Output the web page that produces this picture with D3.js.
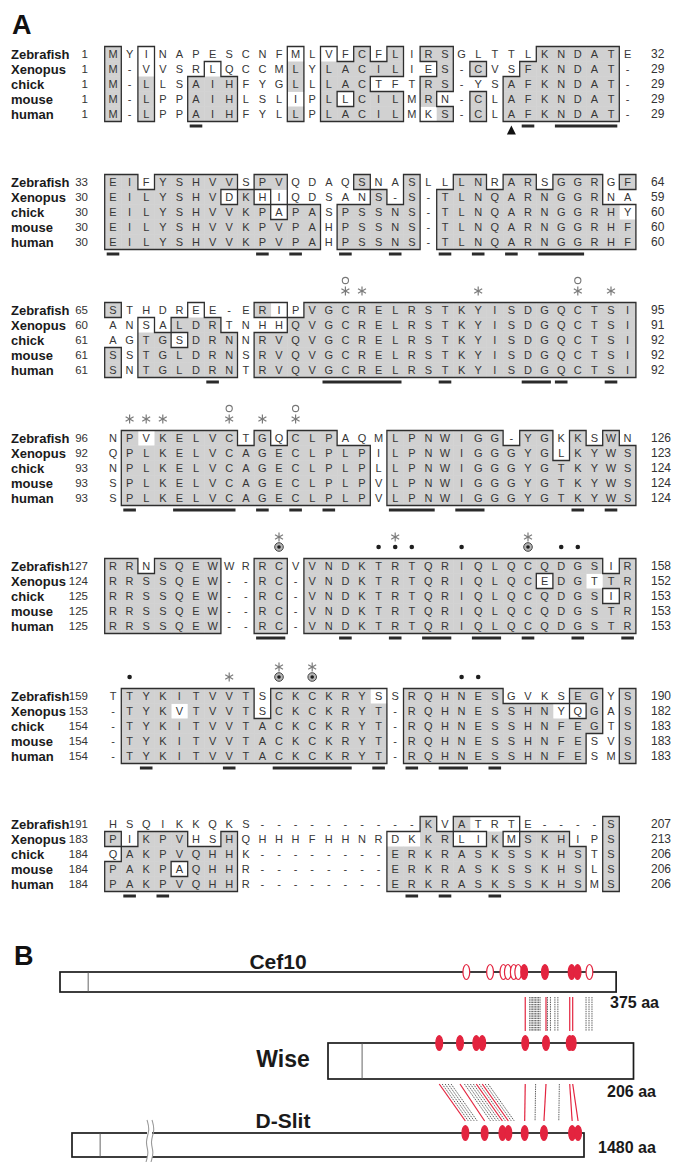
<!DOCTYPE html>
<html>
<head>
<meta charset="utf-8">
<script src="https://cdn.jsdelivr.net/npm/d3@7"></script>
<style>
  html, body { margin: 0; padding: 0; background: #ffffff; }
  svg { display: block; }
</style>
</head>
<body>
<svg id="fig" width="676" height="1162"></svg>
<script>
// ---------- Panel A: Wise protein alignment ----------
const species = ["Zebrafish", "Xenopus", "chick", "mouse", "human"];

// aligned sequence blocks, one string per species ('-' = gap)
const block1 = ["MYINAPESCNFMLVFCFLIRSGLTTLKNDATE", "M-VVSRLQCCMLYLACILIES-CVSFKNDAT-", "M-LLSAIHFYGLLLACTFTRS-YSAFKNDAT-", "M-LPPAIHLSLIPLLCILMRN-CLAFKNDAT-", "M-LPPAIHFYLLPLACILMKS-CLAFKNDAT-"];
const block2 = ["EIFYSHVVSPVQDAQSNASLLLNRARSGGRGF", "EILYSHVDKHIQDSANS-S-TLNQARNGGRNA", "EILYSHVVKPAPASPSSNS-TLNQARNGGRHY", "EILYSHVVKPVPAHPSSNS-TLNQARNGGRHF", "EILYSHVVKPVPAHPSSNS-TLNQARNGGRHF"];
const block3 = ["STHDREE-ERIPVGCRELRSTKYISDGQCTSI", "ANSALDRTNHHQVGCRELRSTKYISDGQCTSI", "AGTGSDRNNRVQVGCRELRSTKYISDGQCTSI", "SSTGLDRNSRVQVGCRELRSTKYISDGQCTSI", "SNTGLDRNTRVQVGCRELRSTKYISDGQCTSI"];
const block4 = ["NPVKELVCTGQCLPAQMLPNWIGG-YGKKSWN", "QPLKELVCAGECLPLPILPNWIGGGYGLKYWS", "NPLKELVCAGECLPLPLLPNWIGGGYGTKYWS", "SPLKELVCAGECLPLPVLPNWIGGGYGTKYWS", "SPLKELVCAGECLPLPVLPNWIGGGYGTKYWS"];
const block5 = ["RRNSQEWWRRCVVNDKTRTQRIQLQCQDGSIR", "RRSSQEW--RC-VNDKTRTQRIQLQCEDGTTR", "RRSSQEW--RC-VNDKTRTQRIQLQCQDGSIR", "RRSSQEW--RC-VNDKTRTQRIQLQCQDGSTR", "RRSSQEW--RC-VNDKTRTQRIQLQCQDGSTR"];
const block6 = ["TTYKITVVTSCKCKRYSSRQHNESGVKSEGYS", "-TYKVTVVTSCKCKRYT-RQHNESSHNYQGAS", "-TYKITVVTACKCKRYT-RQHNESSHNFEGTS", "-TYKITVVTACKCKRYT-RQHNESSHNFESVS", "-TYKITVVTACKCKRYT-RQHNESSHNFESMS"];
const block7 = ["HSQIKKQKS----------KVATRTE----S", "PIKPVHSHQHHHFHHNRDKKRLIKMSKHIPS", "QAKPVQHHK--------ERKRASKSSKHSTS", "PAKPAQHHR--------ERKRASKSSKHSLS", "PAKPVQHHR--------ERKRASKSSKHSMS"];

// first / last residue numbers of each row
const startNums = [[1,1,1,1,1],[33,30,30,30,30],[65,60,61,61,61],[96,92,93,93,93],[127,124,125,125,125],[159,153,154,154,154],[191,183,184,184,184]];
const endNums   = [[32,29,29,29,29],[64,59,60,60,60],[95,91,92,92,92],[126,123,124,124,124],[158,152,153,153,153],[190,182,183,183,183],[207,213,206,206,206]];

// column ranges underlined below the human row
const underBars = [
  [[6,6],[26,26],[28,31]],
  [[1,1],[10,10],[12,12],[15,15],[18,18],[21,21],[23,23],[25,25],[27,29]],
  [[7,7],[14,18],[21,21],[26,27],[28,28],[31,31]],
  [[2,2],[5,8],[10,10],[12,12],[14,14],[18,20],[22,23],[29,29],[31,31]],
  [[10,11],[15,15],[18,18],[20,21],[23,24],[26,26],[29,29],[32,32]],
  [[3,3],[8,8],[11,15],[17,17],[19,19],[21,22],[24,24]],
  [[2,2],[4,4],[19,19],[21,21],[24,24]]
];
// predicted signal-peptide cleavage site (block 1 column)
const cleavageCol = 25;

// symbols above the zebrafish row: "*" asterisk, "o*" circle over asterisk,
// "." dot, "*." asterisk over dot, "*@" asterisk over ringed dot
const topMarks = [
  [], [],
  [[15,"o*"],[16,"*"],[23,"*"],[29,"o*"],[31,"*"]],
  [[2,"*"],[3,"*"],[4,"*"],[8,"o*"],[10,"*"],[12,"o*"]],
  [[11,"*@"],[17,"."],[18,"*."],[19,"."],[22,"."],[26,"*@"],[28,"."],[29,"."]],
  [[2,"."],[8,"*"],[11,"*@"],[13,"*@"],[22,"."],[23,"."]],
  []
];

const blocks = [block1, block2, block3, block4, block5, block6, block7];
const blockY = [54, 182, 310, 438, 566, 696, 824];   // centre of the zebrafish row

// residue similarity groups used for the outlined regions
const simGroups = ["ILVM", "FYW", "KR", "DE", "NQ", "ST"];

// ---------- Panel B: domain diagrams ----------
const cefLen = 375, wiseLen = 206, slitLen = 1480;
const cefSignal = 19, wiseSignal = 23, slitSignal = 19;
const cefOpen = [274, 290, 299, 302, 306, 309, 357];
const cefFilled = [313, 327, 345, 349];
const wiseCys = [75, 89, 100, 104, 133, 147, 163, 165];
const slitCys = [1400, 1413, 1425, 1429, 1440, 1453, 1472, 1476];
// identities Cef10 -> Wise (Wise residue numbers)
const cefWiseRed = [133, 147, 163, 165];
const cefWiseBlack = [136, 137, 138, 139, 140, 141, 142, 143, 148, 150, 153, 155, 174, 176, 178];
// identities Wise -> D-Slit [Wise residue, D-Slit residue]
const wiseSlitRed = [[75,1400],[89,1413],[100,1425],[104,1429],[133,1440],[147,1453],[163,1472],[165,1476]];
const wiseSlitBlack = [[77,1402],[79,1404],[81,1406],[83,1408],[92,1417],[94,1419],[96,1421],[98,1423],[102,1427],[106,1431],[108,1433],[140,1447],[156,1463]];

// ---------- drawing ----------
const svg = d3.select("#fig");
const seqFont = "'Liberation Sans', Arial, Helvetica, sans-serif";
const narrowFont = "'Liberation Sans Narrow', 'Arial Narrow', 'Liberation Sans', Arial, sans-serif";

const colX = d3.scaleLinear().domain([1, 32]).range([113, 113 + 31 * 16.6]);
const pitch = colX(2) - colX(1);
const rowH = 15;
const rowY = d3.scalePoint().domain(species).range([0, 4 * rowH]);

svg.append("text").attr("x", 12).attr("y", 34)
  .attr("font-family", seqFont).attr("font-weight", "bold").attr("font-size", 27)
  .attr("fill", "#111").text("A");

function consensusOf(rows, c) {
  const counts = d3.rollup(rows.map(r => r[c]).filter(ch => ch && ch !== "-"), v => v.length, d => d);
  let best = null, n = 0;
  for (const [k, v] of counts) { if (v > n) { best = k; n = v; } }
  return n >= 3 ? best : null;
}
function similar(a, b) {
  if (a === "-" || !b) return false;
  return simGroups.some(g => g.includes(a) && g.includes(b));
}

function asterisk(g, x, y, r, color) {
  [90, 30, 150].forEach(a => {
    const t = a * Math.PI / 180;
    g.append("line")
      .attr("x1", x - r * Math.cos(t)).attr("y1", y - r * Math.sin(t))
      .attr("x2", x + r * Math.cos(t)).attr("y2", y + r * Math.sin(t))
      .attr("stroke", color).attr("stroke-width", 1.2);
  });
}

blocks.forEach((rows, bi) => {
  const g = svg.append("g").attr("transform", `translate(0,${blockY[bi]})`);
  const n = rows[0].length;
  const cons = d3.range(n).map(c => consensusOf(rows, c));
  const cells = [];
  rows.forEach((s, r) => { for (let c = 0; c < n; c++) cells.push({ r, c, res: s[c] }); });
  const inMask = (r, c) => r >= 0 && r < rows.length && c >= 0 && c < n && cons[c] &&
    (rows[r][c] === cons[c] || similar(rows[r][c], cons[c]));
  const left = d => colX(d.c + 1) - pitch / 2;
  const top = d => rowY(species[d.r]) - rowH / 2;

  // identical residues: grey shading
  g.selectAll("rect.shade").data(cells.filter(d => cons[d.c] && d.res === cons[d.c]))
    .join("rect").attr("class", "shade")
    .attr("x", left).attr("y", top)
    .attr("width", pitch + 0.4).attr("height", rowH + 0.4)
    .attr("fill", "#d1d1d1");

  // outlines around conserved regions
  const p = d3.path();
  cells.forEach(d => {
    if (!inMask(d.r, d.c)) return;
    const L = left(d), R = L + pitch, T = top(d), B = T + rowH;
    if (!inMask(d.r - 1, d.c)) { p.moveTo(L, T); p.lineTo(R, T); }
    if (!inMask(d.r + 1, d.c)) { p.moveTo(L, B); p.lineTo(R, B); }
    if (!inMask(d.r, d.c - 1)) { p.moveTo(L, T); p.lineTo(L, B); }
    if (!inMask(d.r, d.c + 1)) { p.moveTo(R, T); p.lineTo(R, B); }
  });
  g.append("path").attr("d", p.toString()).attr("fill", "none")
    .attr("stroke", "#2e2e2e").attr("stroke-width", 1.3).attr("stroke-linecap", "square");

  // residues
  g.selectAll("text.res").data(cells).join("text").attr("class", "res")
    .attr("x", d => colX(d.c + 1)).attr("y", d => rowY(species[d.r]))
    .attr("dy", "0.36em").attr("text-anchor", "middle")
    .attr("font-family", seqFont).attr("font-size", 11).attr("fill", "#363636")
    .text(d => d.res);

  // species names and residue numbers
  g.selectAll("text.sp").data(species).join("text").attr("class", "sp")
    .attr("x", 11).attr("y", d => rowY(d)).attr("dy", "0.36em")
    .attr("font-family", narrowFont).attr("font-weight", "bold").attr("font-size", 13)
    .attr("fill", "#1a1a1a").text(d => d);
  g.selectAll("text.st").data(startNums[bi]).join("text").attr("class", "st")
    .attr("x", 88).attr("y", (d, i) => rowY(species[i])).attr("dy", "0.36em")
    .attr("text-anchor", "end").attr("font-family", narrowFont).attr("font-size", 11.5)
    .attr("fill", "#333").text(d => d);
  g.selectAll("text.en").data(endNums[bi]).join("text").attr("class", "en")
    .attr("x", 651).attr("y", (d, i) => rowY(species[i])).attr("dy", "0.36em")
    .attr("font-family", narrowFont).attr("font-size", 12)
    .attr("fill", "#333").text(d => d);

  // underlines below the human row
  const yb = rowY("human") + rowH / 2 + 3;
  g.selectAll("rect.ub").data(underBars[bi]).join("rect").attr("class", "ub")
    .attr("x", d => colX(d[0]) - pitch / 2 + 2).attr("y", yb)
    .attr("width", d => colX(d[1]) - colX(d[0]) + pitch - 4).attr("height", 3)
    .attr("fill", "#2a2a2a");

  if (bi === 0) {
    const ax = colX(cleavageCol);
    g.append("path")
      .attr("d", `M${ax},${yb + 1} L${ax - 4.5},${yb + 10} L${ax + 4.5},${yb + 10} Z`)
      .attr("fill", "#111");
  }

  // symbols above the alignment
  const lowY = rowY("Zebrafish") - 19, highY = rowY("Zebrafish") - 29;
  topMarks[bi].forEach(([c, k]) => {
    const x = colX(c);
    if (k === "*") asterisk(g, x, lowY, 4.6, "#7a7a7a");
    if (k === "o*") {
      asterisk(g, x, lowY, 4.6, "#7a7a7a");
      g.append("circle").attr("cx", x).attr("cy", highY - 0.5).attr("r", 3.1)
        .attr("fill", "none").attr("stroke", "#777").attr("stroke-width", 1.1);
    }
    if (k === "." || k === "*.") {
      g.append("circle").attr("cx", x).attr("cy", lowY).attr("r", 2.3).attr("fill", "#1e1e1e");
      if (k === "*.") asterisk(g, x, highY, 4.6, "#7a7a7a");
    }
    if (k === "*@") {
      g.append("circle").attr("cx", x).attr("cy", lowY).attr("r", 4.3)
        .attr("fill", "#b5b5b5").attr("stroke", "#444").attr("stroke-width", 1);
      g.append("circle").attr("cx", x).attr("cy", lowY).attr("r", 1.8).attr("fill", "#1e1e1e");
      asterisk(g, x, highY, 4.6, "#7a7a7a");
    }
  });
});

// ---------- Panel B ----------
const red = "#e3243f";
const pxAa = 1.483;
const cefX = d3.scaleLinear().domain([0, cefLen]).range([60, 60 + cefLen * pxAa]);
const wiseX = d3.scaleLinear().domain([0, wiseLen]).range([328, 328 + wiseLen * pxAa]);
// D-Slit axis is broken: the long middle stretch is collapsed at the break
const slitBreak = [52, slitLen - (584 - 149) / pxAa];
const slitX = d3.scaleLinear().domain([0, slitBreak[0], slitBreak[1], slitLen]).range([72, 149, 149, 584]);

const cefBox = { top: 972, h: 20 }, wiseBox = { top: 1043, h: 36 }, slitBox = { top: 1133, h: 24 };

svg.append("text").attr("x", 14).attr("y", 965)
  .attr("font-family", seqFont).attr("font-weight", "bold").attr("font-size", 27)
  .attr("fill", "#111").text("B");

function protein(scale, len, box, signal) {
  svg.append("rect").attr("x", scale(0)).attr("y", box.top)
    .attr("width", scale(len) - scale(0)).attr("height", box.h)
    .attr("fill", "#fff").attr("stroke", "#1c1c1c").attr("stroke-width", 1.7);
  svg.append("line").attr("x1", scale(signal)).attr("x2", scale(signal))
    .attr("y1", box.top).attr("y2", box.top + box.h)
    .attr("stroke", "#555").attr("stroke-width", 0.9);
}
protein(cefX, cefLen, cefBox, cefSignal);
protein(wiseX, wiseLen, wiseBox, wiseSignal);
protein(slitX, slitLen, slitBox, slitSignal);

// D-Slit break marks
{
  const bx = slitX(slitBreak[0]);
  svg.append("rect").attr("x", bx - 2).attr("y", slitBox.top - 1).attr("width", 5).attr("height", slitBox.h + 2).attr("fill", "#fff");
  const wave = d3.line().curve(d3.curveBasis);
  [-2, 3].forEach(dx => {
    svg.append("path")
      .attr("d", wave([[bx + dx, 1120], [bx + dx + 3, 1130], [bx + dx - 2, 1142], [bx + dx + 2, 1152], [bx + dx - 1, 1162]]))
      .attr("fill", "none").attr("stroke", "#9a9a9a").attr("stroke-width", 1.1);
  });
}

// connecting lines: Cef10 -> Wise
const cw = svg.append("g");
cw.selectAll("line.k").data(cefWiseBlack).join("line")
  .attr("x1", d => wiseX(d)).attr("x2", d => wiseX(d))
  .attr("y1", cefBox.top + cefBox.h + 5).attr("y2", wiseBox.top - 12)
  .attr("stroke", "#333").attr("stroke-width", 0.8).attr("stroke-dasharray", "1.4,0.9");
cw.selectAll("line.r").data(cefWiseRed).join("line")
  .attr("x1", d => wiseX(d)).attr("x2", d => wiseX(d))
  .attr("y1", cefBox.top + cefBox.h + 5).attr("y2", wiseBox.top - 12)
  .attr("stroke", red).attr("stroke-width", 1.2);

// connecting lines: Wise -> D-Slit
const ws = svg.append("g");
ws.selectAll("line.k").data(wiseSlitBlack).join("line")
  .attr("x1", d => wiseX(d[0])).attr("x2", d => slitX(d[1]))
  .attr("y1", wiseBox.top + wiseBox.h + 5).attr("y2", slitBox.top - 12)
  .attr("stroke", "#333").attr("stroke-width", 0.8).attr("stroke-dasharray", "1.4,0.9");
ws.selectAll("line.r").data(wiseSlitRed).join("line")
  .attr("x1", d => wiseX(d[0])).attr("x2", d => slitX(d[1]))
  .attr("y1", wiseBox.top + wiseBox.h + 5).attr("y2", slitBox.top - 12)
  .attr("stroke", red).attr("stroke-width", 1.2);

// cysteine marks
function cysMarks(scale, data, y, filled) {
  svg.append("g").selectAll("ellipse").data(data).join("ellipse")
    .attr("cx", d => scale(d)).attr("cy", y).attr("rx", 3.4).attr("ry", 7.5)
    .attr("fill", filled ? red : "#fff").attr("stroke", red).attr("stroke-width", 1.2);
}
cysMarks(cefX, cefOpen, cefBox.top, false);
cysMarks(cefX, cefFilled, cefBox.top, true);
cysMarks(wiseX, wiseCys, wiseBox.top, true);
cysMarks(slitX, slitCys, slitBox.top, true);

// names and lengths
[["Cef10", 278, 969, 21], ["Wise", 283, 1067, 23], ["D-Slit", 283, 1128, 21]].forEach(([t, x, y, s]) => {
  svg.append("text").attr("x", x).attr("y", y).attr("text-anchor", "middle")
    .attr("font-family", seqFont).attr("font-weight", "bold")
    .attr("font-size", s).attr("fill", "#1a1a1a").text(t);
});
[[cefLen, 610, 1008], [wiseLen, 607, 1097], [slitLen, 598, 1153]].forEach(([len, x, y]) => {
  svg.append("text").attr("x", x).attr("y", y)
    .attr("font-family", narrowFont).attr("font-weight", "bold")
    .attr("font-size", 16).attr("fill", "#1a1a1a").text(`${len} aa`);
});
</script>
</body>
</html>
